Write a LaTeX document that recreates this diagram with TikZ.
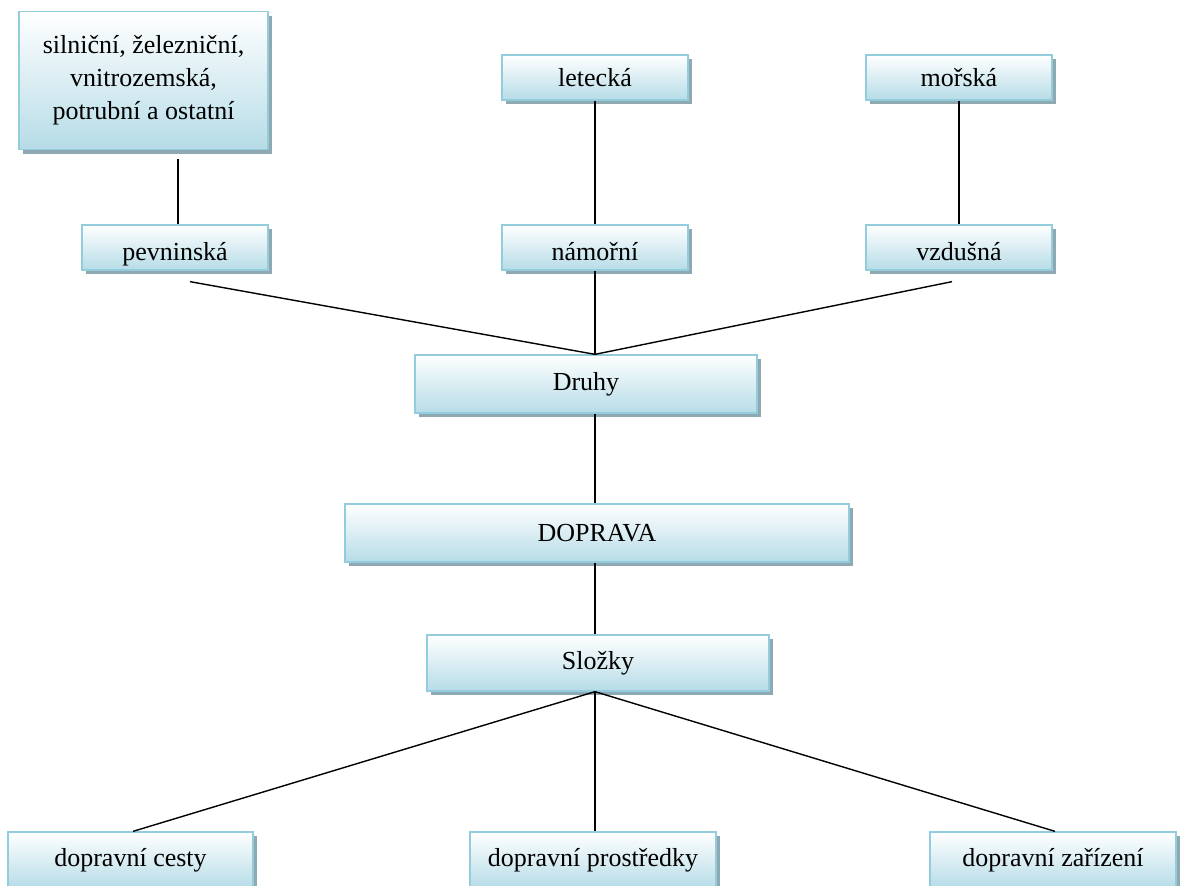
\documentclass[tikz,border=0pt]{standalone}
\usepackage{fontspec}
\setmainfont{Liberation Serif}
\usetikzlibrary{shadows}
\definecolor{bordc}{HTML}{93CDDD}
\definecolor{fillb}{HTML}{B6DCE7}
\definecolor{shadc}{HTML}{8FA9B3}
\tikzset{
  box/.style={draw=bordc, line width=1.3pt, top color=white, bottom color=fillb,
    inner sep=0pt, font=\fontsize{26}{33}\selectfont, align=center,
    drop shadow={shadow xshift=4pt, shadow yshift=-4pt, fill=shadc, opacity=1}},
  lowtext/.style={text height=29pt, text depth=3pt},
  conn/.style={draw=black, line width=1.4pt},
}
\begin{document}
\begin{tikzpicture}[x=1pt,y=-1pt]
\useasboundingbox (0,0) rectangle (1186,886);
\node[box, minimum width=249pt, minimum height=138pt] (big) at (143.5,80.5)
  {silniční, železniční,\\ vnitrozemská,\\ potrubní a ostatní};
\node[box, lowtext, minimum width=186pt, minimum height=45pt] (pev) at (175,247.5) {pevninská};
\node[box, minimum width=186pt, minimum height=45pt] (let) at (595,77.5) {letecká};
\node[box, minimum width=186pt, minimum height=45pt] (mor) at (959,77.5) {mořská};
\node[box, lowtext, minimum width=186pt, minimum height=45pt] (nam) at (595,247.5) {námořní};
\node[box, lowtext, minimum width=186pt, minimum height=45pt] (vzd) at (959,247.5) {vzdušná};
\node[box, minimum width=342pt, minimum height=58pt] (druhy) at (586,384) {Druhy};
\node[box, minimum width=504pt, minimum height=58pt] (dop) at (597,533) {DOPRAVA};
\node[box, minimum width=342pt, minimum height=56pt] (slo) at (598,663) {Složky};
\node[box, minimum width=245pt, minimum height=56pt] (ces) at (130.5,860) {dopravní cesty};
\node[box, minimum width=246pt, minimum height=56pt] (pro) at (593,860) {dopravní prostředky};
\node[box, minimum width=246pt, minimum height=56pt] (zar) at (1053,860) {dopravní zařízení};
\coordinate (j1) at (nam.south |- druhy.north);
\coordinate (j2) at (nam.south |- slo.south);
\draw[conn] ([xshift=3pt,yshift=-9pt]big.south -| pev.north) -- ([xshift=3pt]pev.north);
\draw[conn] (let.south) -- (nam.north);
\draw[conn] (mor.south) -- (vzd.north);
\draw[conn] ([xshift=15pt,yshift=-11pt]pev.south) -- (j1);
\draw[conn] (nam.south) -- (j1);
\draw[conn] ([xshift=-7pt,yshift=-11pt]vzd.south) -- (j1);
\draw[conn] (j1 |- druhy.south) -- (j1 |- dop.north);
\draw[conn] (j1 |- dop.south) -- (j1 |- slo.north);
\draw[conn] (j2) -- ([xshift=2.5pt]ces.north);
\draw[conn] (j2) -- (j2 |- pro.north);
\draw[conn] (j2) -- ([xshift=2pt]zar.north);
\end{tikzpicture}
\end{document}
